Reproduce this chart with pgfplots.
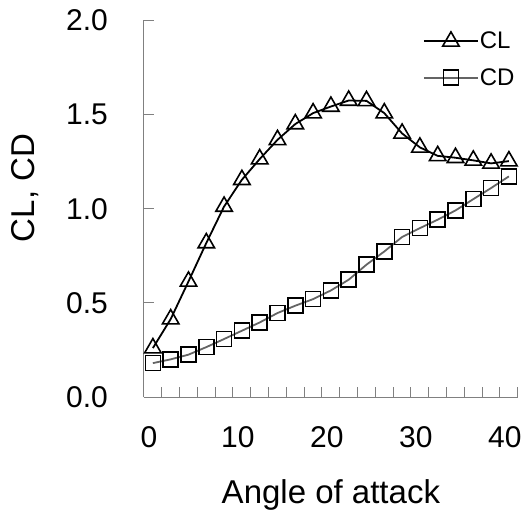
\documentclass[border=0pt]{standalone}
\usepackage{fontspec}
\setmainfont{Liberation Sans}
\usepackage{pgfplots}
\pgfplotsset{compat=1.18}
\definecolor{axisgray}{RGB}{128,128,128}
\definecolor{cdgray}{RGB}{100,100,100}

\pgfplotstableread{
aoa  cl     cd
0    0.260  0.180
2    0.414  0.200
4    0.614  0.225
6    0.818  0.265
8    1.012  0.308
10   1.154  0.352
12   1.264  0.396
14   1.366  0.446
16   1.450  0.485
18   1.508  0.520
20   1.543  0.566
22   1.575  0.623
24   1.573  0.703
26   1.508  0.773
28   1.400  0.850
30   1.326  0.897
32   1.281  0.942
34   1.271  0.991
36   1.257  1.051
38   1.241  1.110
40   1.253  1.172
}\polar

\begin{document}
\begin{tikzpicture}
\begin{axis}[
  scale only axis,
  width=373.8bp, height=376.5bp,
  xmin=-1, xmax=41,
  ymin=0, ymax=2,
  axis x line*=bottom,
  axis y line*=left,
  axis line style={axisgray, line width=1bp},
  tick align=inside,
  tick style={axisgray, line width=1bp},
  major tick length=10bp,
  xtick={-1,1,...,41},
  xticklabels={},
  extra x ticks={0,10,20,30,40},
  extra x tick labels={0,10,20,30,40},
  extra x tick style={major tick length=0pt},
  ytick={0,0.5,1,1.5,2},
  yticklabel style={/pgf/number format/fixed, /pgf/number format/fixed zerofill, /pgf/number format/precision=1},
  /pgf/number format/assume math mode=true,
  tick label style={font=\fontsize{30bp}{36bp}\selectfont, inner sep=0pt},
  yticklabel style={anchor=east, xshift=-36bp},
  xticklabel style={anchor=north, yshift=-29bp, xshift=-4bp},
  xlabel={Angle of attack},
  ylabel={CL, CD},
  label style={font=\fontsize{33bp}{40bp}\selectfont, inner sep=0pt},
  xlabel style={at={([yshift=-106bp]axis description cs:0.5,0)}, anchor=base},
  ylabel style={at={([xshift=-109bp]axis description cs:0,0.555)}, anchor=base},
  legend style={draw=none, fill=none, font=\fontsize{24bp}{28bp}\selectfont,
    at={(axis description cs:0.746,0.972)}, anchor=north west,
    row sep=16bp, inner sep=0pt, nodes={inner sep=1bp}},
  legend cell align=left,
  legend image code/.code={\draw[mark repeat=2, mark phase=2, #1] plot coordinates {(0bp,0bp) (27bp,0bp) (54bp,0bp)};},
  clip=false
]
\addplot[black, line width=1.8bp, mark=triangle, mark size=9.5bp, mark options={black, solid, line width=1.6bp}] table[x=aoa, y=cl] {\polar};
\addlegendentry{CL}
\addplot[cdgray, line width=1.8bp, mark=square, mark size=7.5bp, mark options={black, solid, line width=1.6bp}] table[x=aoa, y=cd] {\polar};
\addlegendentry{CD}
\end{axis}
\pgfresetboundingbox
\path[use as bounding box] (-144bp,-115bp) rectangle (378bp,397bp);
\end{tikzpicture}
\end{document}
